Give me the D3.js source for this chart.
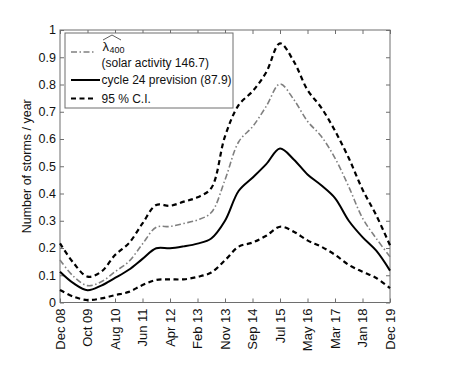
<!DOCTYPE html>
<html>
<head>
<meta charset="utf-8">
<script src="https://cdn.jsdelivr.net/npm/d3@7"></script>
<style>
  html, body { margin: 0; padding: 0; background: #fff; }
  svg { display: block; }
  text { font-family: "Liberation Sans", Arial, Helvetica, sans-serif; fill: #111; }
</style>
</head>
<body>
<svg id="chart" width="463" height="382"></svg>
<script>
// ---- data ----
const xTickLabels = ["Dec 08","Oct 09","Aug 10","Jun 11","Apr 12","Feb 13","Nov 13","Sep 14","Jul 15","May 16","Mar 17","Jan 18","Dec 19"];
const yTicks = [0,0.1,0.2,0.3,0.4,0.5,0.6,0.7,0.8,0.9,1];
// sample positions measured in x-tick units (0 = Dec 08, 12 = Dec 19)
const samplePos = [0,0.5,1,1.5,2,2.5,3,3.5,4,4.5,5,5.5,6,6.5,7,7.5,8,8.5,9,9.5,10,10.5,11,11.5,12];
const lambda400 = [0.156,0.095,0.062,0.076,0.113,0.15,0.215,0.276,0.279,0.29,0.303,0.33,0.45,0.59,0.645,0.72,0.802,0.745,0.665,0.61,0.53,0.425,0.31,0.235,0.168];
const cycle24   = [0.113,0.07,0.045,0.062,0.09,0.12,0.16,0.199,0.199,0.206,0.216,0.235,0.30,0.41,0.458,0.508,0.565,0.525,0.47,0.43,0.383,0.30,0.24,0.19,0.117];
const ciUpper   = [0.217,0.144,0.095,0.113,0.174,0.217,0.29,0.358,0.355,0.37,0.386,0.42,0.61,0.725,0.775,0.845,0.951,0.885,0.78,0.715,0.63,0.53,0.415,0.32,0.21];
const ciLower   = [0.046,0.021,0.009,0.015,0.027,0.039,0.064,0.083,0.085,0.085,0.094,0.11,0.155,0.205,0.22,0.245,0.278,0.26,0.228,0.205,0.175,0.138,0.113,0.09,0.053];
const legendLabels = ["(solar activity 146.7)", "cycle 24 prevision (87.9)", "95 % C.I."];
const yAxisTitle = "Number of storms / year";

// ---- layout ----
const L = 60, R = 390, T = 30, B = 302.5;
const svg = d3.select("#chart");
const x = d3.scaleLinear().domain([0, 12]).range([L, R]);
const y = d3.scaleLinear().domain([0, 1]).range([B, T]);
const axisColor = "#6e6e6e";
const tickLen = 4;

// box
svg.append("rect").attr("x", L).attr("y", T).attr("width", R - L).attr("height", B - T)
  .attr("fill", "none").attr("stroke", axisColor).attr("stroke-width", 1);

// axes with inward ticks
const xIdx = xTickLabels.map((d, i) => i);
const gxB = svg.append("g").attr("transform", `translate(0,${B})`)
  .call(d3.axisTop(x).tickValues(xIdx).tickSize(tickLen).tickFormat(""));
const gxT = svg.append("g").attr("transform", `translate(0,${T})`)
  .call(d3.axisBottom(x).tickValues(xIdx).tickSize(tickLen).tickFormat(""));
const gyL = svg.append("g").attr("transform", `translate(${L},0)`)
  .call(d3.axisRight(y).tickValues(yTicks).tickSize(tickLen).tickFormat(""));
const gyR = svg.append("g").attr("transform", `translate(${R},0)`)
  .call(d3.axisLeft(y).tickValues(yTicks).tickSize(tickLen).tickFormat(""));
[gxB, gxT, gyL, gyR].forEach(g => {
  g.select(".domain").remove();
  g.selectAll("line").attr("stroke", axisColor);
});

// y tick labels
svg.append("g").selectAll("text").data(yTicks).join("text")
  .attr("x", L - 4).attr("y", d => y(d)).attr("dy", "0.35em")
  .attr("text-anchor", "end").attr("font-size", 12.5)
  .text(d => d3.format("")(+d.toFixed(1)));

// x tick labels (rotated)
svg.append("g").selectAll("text").data(xTickLabels).join("text")
  .attr("transform", (d, i) => `translate(${x(i)},${B + 6}) rotate(-90)`)
  .attr("text-anchor", "end").attr("dy", "0.36em").attr("font-size", 13)
  .text(d => d);

// y axis title
svg.append("text")
  .attr("transform", `translate(27,${(T + B) / 2}) rotate(-90)`)
  .attr("text-anchor", "middle").attr("dy", "0.35em").attr("font-size", 12.5)
  .text(yAxisTitle);

// lines
const line = d3.line().x(d => x(d[0])).y(d => y(d[1])).curve(d3.curveCatmullRom.alpha(0.5));
const series = [
  { v: ciUpper, stroke: "#000", width: 2.2, dash: "5,3.5" },
  { v: ciLower, stroke: "#000", width: 2.2, dash: "5,3.5" },
  { v: lambda400, stroke: "#808080", width: 1.6, dash: "6,2.5,1.5,2.5" },
  { v: cycle24, stroke: "#000", width: 2, dash: null }
];
series.forEach(s => {
  svg.append("path").datum(samplePos.map((p, i) => [p, s.v[i]]))
    .attr("d", line).attr("fill", "none").attr("stroke", s.stroke)
    .attr("stroke-width", s.width).attr("stroke-dasharray", s.dash)
    .attr("stroke-linejoin", "round");
});

// legend
const lg = svg.append("g");
lg.append("rect").attr("x", 65).attr("y", 33).attr("width", 168).attr("height", 75)
  .attr("fill", "#fff").attr("stroke", axisColor).attr("stroke-width", 1);
const rows = [
  { y: 52, stroke: "#808080", width: 1.6, dash: "6,2.5,1.5,2.5", x2: 94 },
  { y: 80, stroke: "#000", width: 2, dash: null, x2: 100 },
  { y: 98.5, stroke: "#000", width: 2.2, dash: "5,3.5", x2: 94 }
];
rows.forEach(r => {
  lg.append("line").attr("x1", 71).attr("x2", r.x2).attr("y1", r.y).attr("y2", r.y)
    .attr("stroke", r.stroke).attr("stroke-width", r.width).attr("stroke-dasharray", r.dash);
});
// lambda hat_400
lg.append("text").attr("x", 102.5).attr("y", 50.5)
  .attr("font-family", "'Liberation Serif', 'DejaVu Serif', serif").attr("font-size", 13)
  .text("λ");
lg.append("text").attr("x", 109.5).attr("y", 52.5)
  .attr("font-family", "'Liberation Serif', 'DejaVu Serif', serif").attr("font-size", 9)
  .text("400");
lg.append("path").attr("d", "M103,40 L112,35 L121,40")
  .attr("fill", "none").attr("stroke", "#333").attr("stroke-width", 0.8);
lg.append("text").attr("x", 101.5).attr("y", 62.5).attr("dy", "0.35em").attr("font-size", 12).text(legendLabels[0]);
lg.append("text").attr("x", 101.5).attr("y", 80).attr("dy", "0.35em").attr("font-size", 12).text(legendLabels[1]);
lg.append("text").attr("x", 101.5).attr("y", 98.5).attr("dy", "0.35em").attr("font-size", 12).text(legendLabels[2]);
</script>
</body>
</html>
